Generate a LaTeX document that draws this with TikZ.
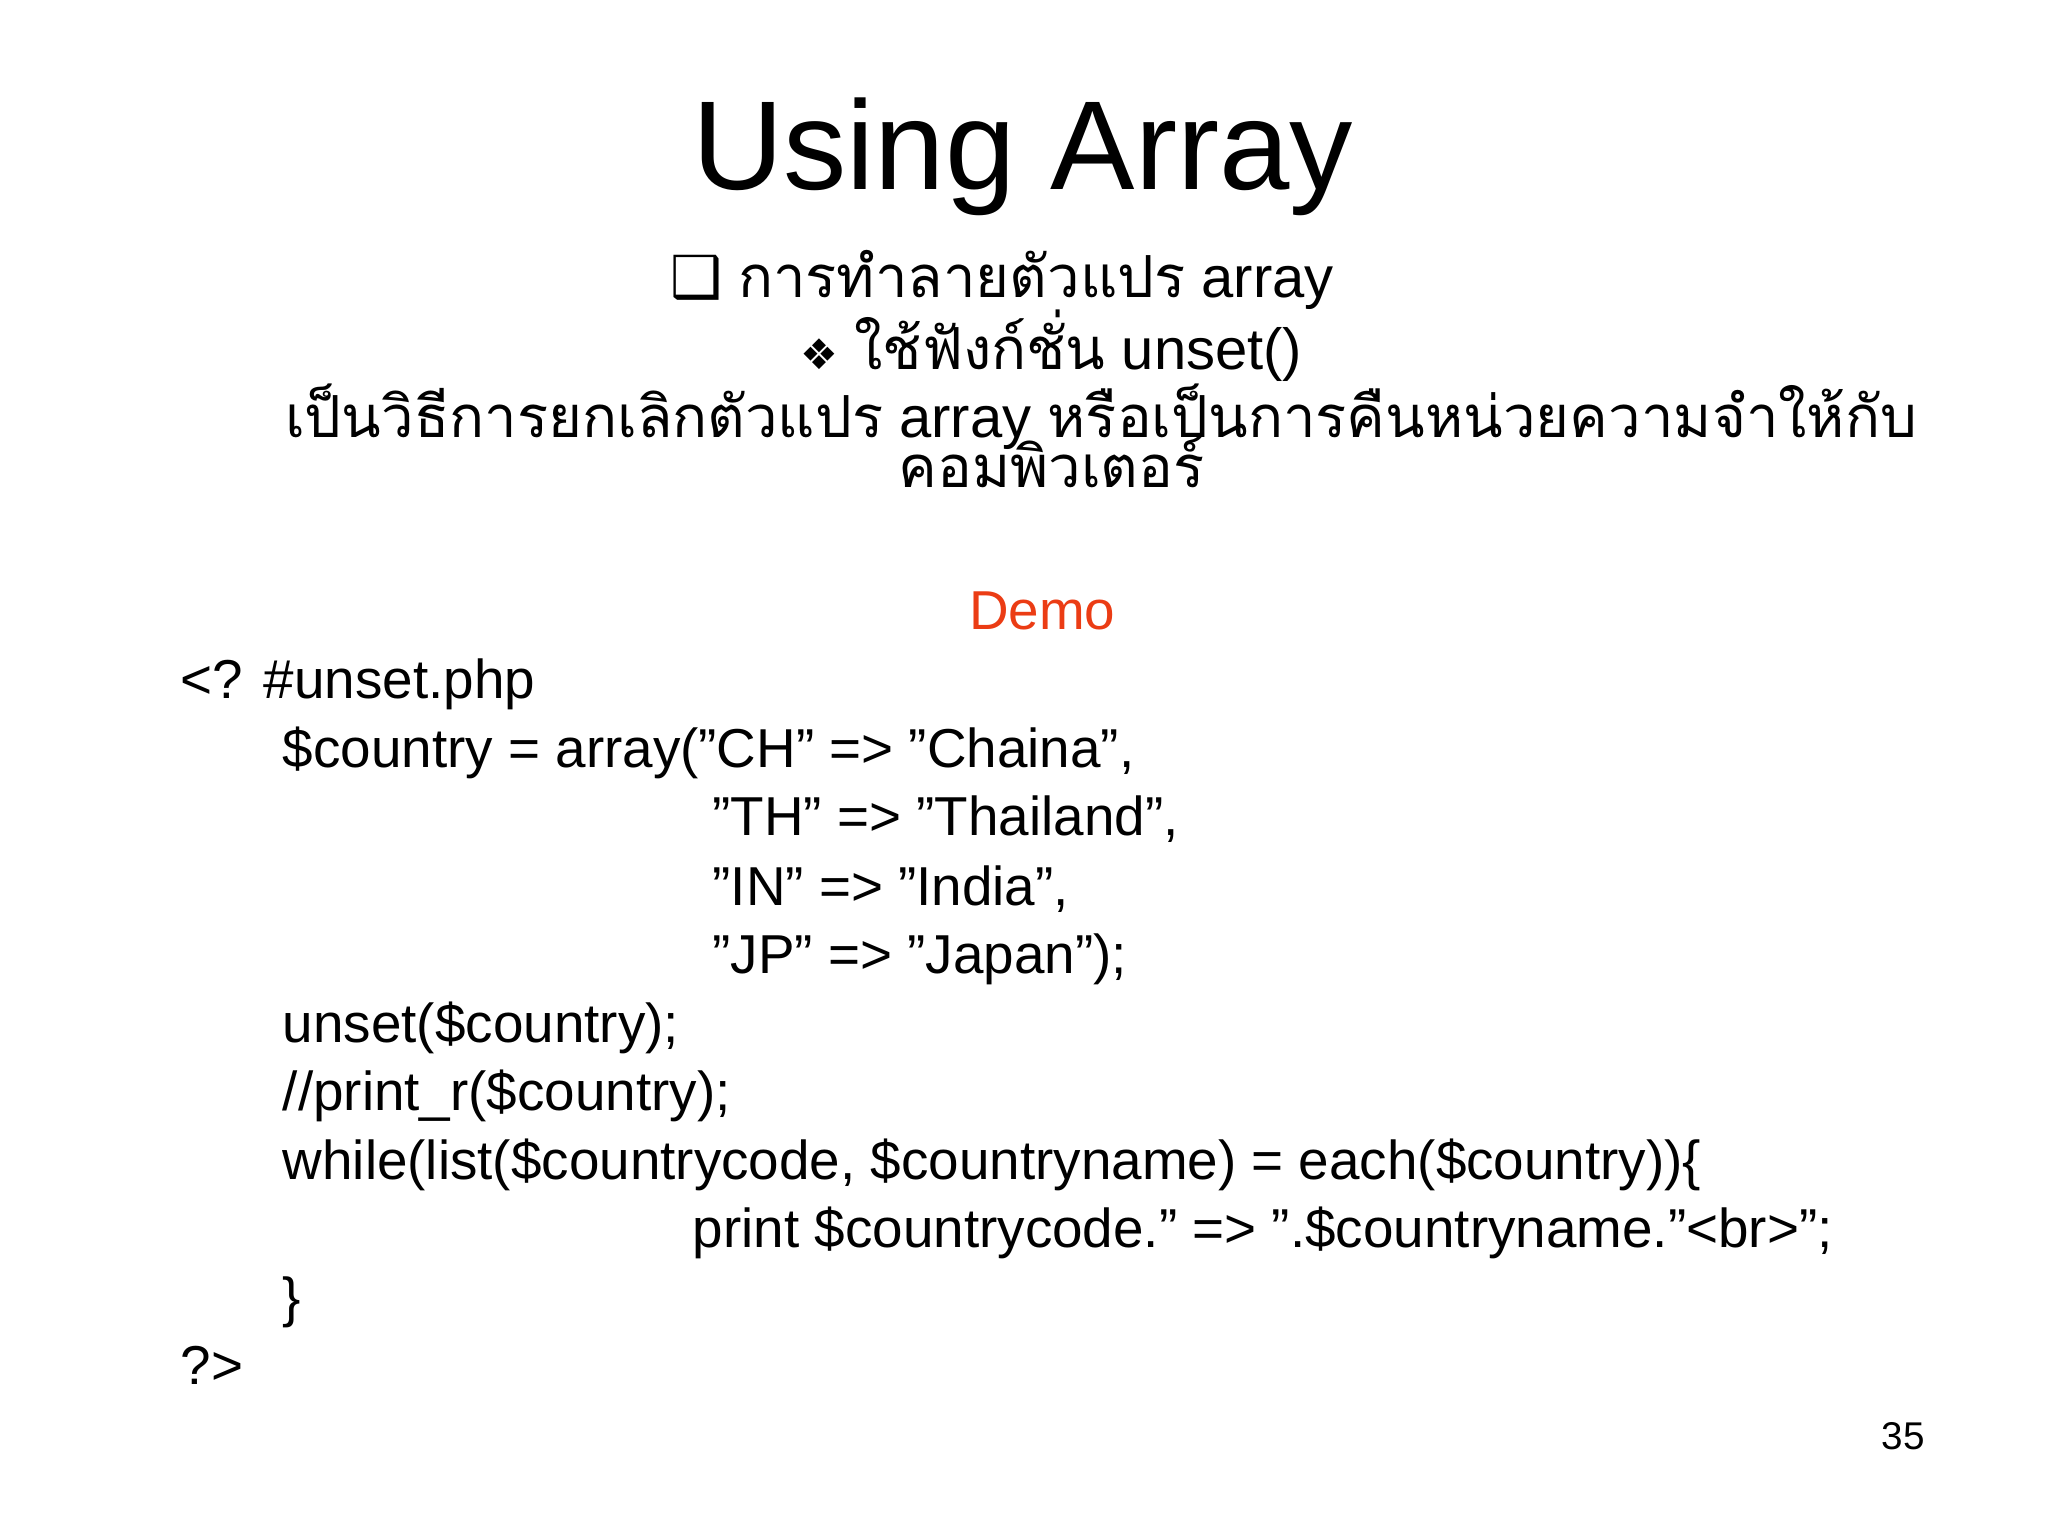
\documentclass[tikz,border=0pt]{standalone}
\usepackage{fontspec}
\setmainfont{Liberation Sans}
\newfontfamily\thaifont[Script=Thai]{Loma}
\newfontfamily\symfont{DejaVu Sans}
\definecolor{demored}{RGB}{235,60,20}
\begin{document}
\begin{tikzpicture}[x=0.01306cm,y=-0.01306cm,
  code/.style={anchor=base west,inner sep=0pt,font=\fontsize{15.6}{18}\selectfont},
  th/.style={anchor=base,inner sep=0pt,font=\fontsize{16.5}{18}\selectfont}]
\useasboundingbox (0,0) rectangle (1568,1176);
\node[anchor=base,inner sep=0pt,font=\fontsize{36}{40}\selectfont] (title) at (783,145) {Using Array};
\node[th] (h1) at (767,228) {{\symfont ❑} {\thaifont การทำลายตัวแปร} array};
\node[th] (h2) at (805,283) {{\symfont\fontsize{12}{14}\selectfont ❖} {\thaifont ใช้ฟังก์ชั่น} unset()};
\node[th] (h3) at (843,335) {{\thaifont เป็นวิธีการยกเลิกตัวแปร} array {\thaifont หรือเป็นการคืนหน่วยความจำให้กับ}};
\node[th] (h4) at (805,373) {{\thaifont คอมพิวเตอร์}};
\node[anchor=base,inner sep=0pt,text=demored,font=\fontsize{15.6}{18}\selectfont] (demo) at (798,482) {Demo};
\node[code] (c1) at (138,535) {<? \#unset.php};
\node[code] (c2) at (216,588) {\$country = array("CH" => "Chaina",};
\node[code] (c3) at (545,640) {"TH" => "Thailand",};
\node[code] (c4) at (545,693) {"IN" => "India",};
\node[code] (c5) at (545,745) {"JP" => "Japan");};
\node[code] (c6) at (216,798) {unset(\$country);};
\node[code] (c7) at (216,850) {//print\_r(\$country);};
\node[code] (c8) at (216,903) {while(list(\$countrycode, \$countryname) = each(\$country))\{};
\node[code] (c9) at (530,955) {print \$countrycode." => ".\$countryname."<br>";};
\node[code] (c10) at (216,1008) {\}};
\node[code] (c11) at (138,1060) {?>};
\node[anchor=base,inner sep=0pt,font=\fontsize{11}{13}\selectfont] (num) at (1457,1110) {35};
\end{tikzpicture}
\end{document}
